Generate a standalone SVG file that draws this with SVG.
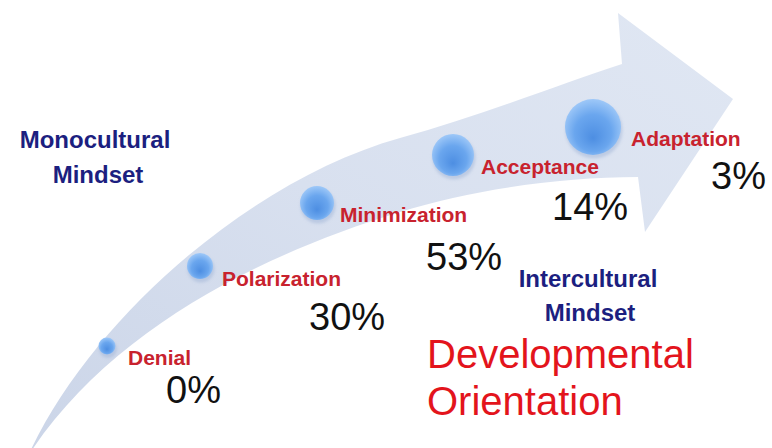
<svg xmlns="http://www.w3.org/2000/svg" width="772" height="448" viewBox="0 0 772 448">
  <defs>
    <linearGradient id="arrowFill" x1="0" y1="1" x2="1" y2="0">
      <stop offset="0" stop-color="#cbd5e8"/>
      <stop offset="0.5" stop-color="#d8e0ef"/>
      <stop offset="1" stop-color="#e0e7f3"/>
    </linearGradient>
    <radialGradient id="ball" cx="50%" cy="55%" r="55%" fx="50%" fy="70%">
      <stop offset="0" stop-color="#4d8ee2"/>
      <stop offset="0.6" stop-color="#6aa6ee"/>
      <stop offset="1" stop-color="#9ec8f8"/>
    </radialGradient>
    <filter id="soft" x="-30%" y="-30%" width="160%" height="160%">
      <feGaussianBlur stdDeviation="1.5"/>
    </filter>
  </defs>
  <style>
    .lbl { font-family: "Liberation Sans", Arial, sans-serif; font-weight: bold; font-size: 21px; fill: #c8222e; }
    .pct { font-family: "Liberation Sans", Arial, sans-serif; font-size: 38px; fill: #111111; }
    .mind { font-family: "Liberation Sans", Arial, sans-serif; font-weight: bold; font-size: 24px; fill: #1c1f80; text-anchor: middle; }
    .dev { font-family: "Liberation Sans", Arial, sans-serif; font-size: 40px; fill: #e3141c; }
    .ball { fill: url(#ball); }
    .halo { fill: #9fb3d6; opacity: 0.5; filter: url(#soft); }
  </style>
  <rect width="772" height="448" fill="#ffffff"/>

  <g id="connectors">
    <path id="arrow" fill="url(#arrowFill)"
      d="M 28 456 C 90 320, 250 180, 400 138 C 480 116, 560 84, 622 64 L 618 13 L 733 99 L 645 232 L 638 177 C 560 177, 470 190, 400 212 C 260 255, 110 330, 28 456 Z"/>
  </g>

  <g id="monocultural">
    <text class="mind" x="95" y="148">Monocultural</text>
    <text class="mind" x="98" y="183">Mindset</text>
  </g>

  <g id="denial">
    <circle class="halo" cx="108" cy="349" r="9"/>
    <circle class="ball" cx="107" cy="346" r="8.5"/>
    <text class="lbl" x="128" y="365">Denial</text>
    <text class="pct" x="166" y="403">0%</text>
  </g>

  <g id="polarization">
    <circle class="halo" cx="201" cy="269" r="13.5"/>
    <circle class="ball" cx="200" cy="266" r="13"/>
    <text class="lbl" x="222" y="286">Polarization</text>
    <text class="pct" x="309" y="330">30%</text>
  </g>

  <g id="minimization">
    <circle class="halo" cx="318" cy="206" r="17.5"/>
    <circle class="ball" cx="317" cy="203" r="17"/>
    <text class="lbl" x="340" y="222">Minimization</text>
    <text class="pct" x="426" y="270">53%</text>
  </g>

  <g id="acceptance">
    <circle class="halo" cx="454" cy="158" r="21.5"/>
    <circle class="ball" cx="453" cy="155" r="21"/>
    <text class="lbl" x="481" y="174">Acceptance</text>
    <text class="pct" x="552" y="220">14%</text>
  </g>

  <g id="adaptation">
    <circle class="halo" cx="594" cy="130" r="28.5"/>
    <circle class="ball" cx="593" cy="127" r="28"/>
    <text class="lbl" x="631" y="146">Adaptation</text>
    <text class="pct" x="711" y="189">3%</text>
  </g>

  <g id="intercultural">
    <text class="mind" x="588" y="287">Intercultural</text>
    <text class="mind" x="590" y="321">Mindset</text>
  </g>

  <g id="developmental-orientation">
    <text class="dev" x="427" y="368">Developmental</text>
    <text class="dev" x="427" y="415">Orientation</text>
  </g>
</svg>
